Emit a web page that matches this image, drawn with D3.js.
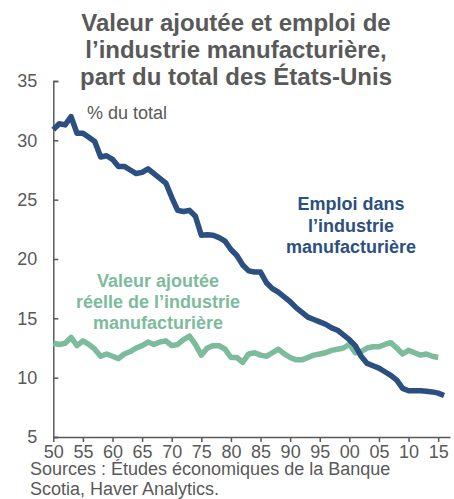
<!DOCTYPE html>
<html>
<head>
<meta charset="utf-8">
<script src="https://cdn.jsdelivr.net/npm/d3@7"></script>
<style>
  body { margin: 0; background: #fff; }
  svg { font-family: "Liberation Sans", Arial, sans-serif; }
</style>
</head>
<body>
<svg id="chart" width="454" height="499"></svg>
<script>
// years 1950 .. 2016
var startYear = 1950;

// Emploi dans l'industrie manufacturière, % du total
var emploi = [30.9, 31.4, 31.3, 32.0, 30.6, 30.6, 30.25, 29.9, 28.6, 28.7,
              28.4, 27.8, 27.8, 27.5, 27.2, 27.3, 27.6, 27.2, 26.8, 26.4,
              25.2, 24.1, 24.0, 24.1, 23.6, 22.0, 22.05, 22.0, 21.8, 21.5,
              20.8, 20.3, 19.5, 19.0, 18.9, 18.9, 18.0, 17.5, 17.2, 16.8,
              16.4, 15.9, 15.5, 15.1, 14.9, 14.7, 14.5, 14.2, 14.0, 13.6,
              13.2, 12.7, 11.8, 11.2, 11.0, 10.8, 10.5, 10.2, 9.8, 9.1,
              8.9, 8.9, 8.9, 8.85, 8.8, 8.7, 8.5];

// Valeur ajoutée réelle de l'industrie manufacturière, % du total
var valeur = [12.9, 12.8, 12.9, 13.4, 12.7, 13.1, 12.8, 12.4, 11.8, 12.0,
              11.8, 11.6, 12.0, 12.2, 12.5, 12.7, 13.0, 12.8, 13.0, 13.1,
              12.7, 12.8, 13.2, 13.5, 12.8, 11.9, 12.5, 12.7, 12.7, 12.4,
              11.7, 11.7, 11.3, 12.0, 12.1, 11.9, 11.8, 12.1, 12.4, 12.0,
              11.7, 11.5, 11.5, 11.7, 11.9, 12.0, 12.1, 12.3, 12.4, 12.5,
              12.8, 12.1, 12.2, 12.5, 12.6, 12.6, 12.8, 12.95, 12.5, 12.0,
              12.3, 12.1, 11.9, 12.0, 11.8, 11.7];

var yTicks = [5, 10, 15, 20, 25, 30, 35];
var xTicks = [1950, 1955, 1960, 1965, 1970, 1975, 1980, 1985, 1990, 1995, 2000, 2005, 2010, 2015];

var titleLines = ["Valeur ajoutée et emploi de", "l\u2019industrie manufacturière,", "part du total des États-Unis"];
var emploiLabel = ["Emploi dans", "l\u2019industrie", "manufacturière"];
var valeurLabel = ["Valeur ajoutée", "réelle de l\u2019industrie", "manufacturière"];
var sourceLines = ["Sources : Études économiques de la Banque", "Scotia, Haver Analytics."];

var blue = "#2b4f80";
var green = "#7dbb9d";
var grey = "#595959";

var svg = d3.select("#chart");

var x = d3.scaleLinear().domain([1950, 2017]).range([53.3, 450]);
var y = d3.scaleLinear().domain([5, 35]).range([437, 81]);

// Title
svg.append("g").selectAll("text")
    .data(titleLines)
    .enter()
    .append("text")
    .attr("x", 236)
    .attr("y", function(d, i) { return 31 + i * 27; })
    .attr("text-anchor", "middle")
    .attr("font-size", "24px")
    .attr("font-weight", "bold")
    .attr("fill", grey)
    .text(function(d) { return d; });

// y axis, ticks pointing inward
var yAxis = svg.append("g")
    .attr("transform", "translate(" + x(1950) + ",0)")
    .call(d3.axisRight(y).tickValues(yTicks).tickSize(5).tickFormat(d3.format("d")));
yAxis.select(".domain").attr("stroke", grey).attr("stroke-width", 1.5);
yAxis.selectAll(".tick line").attr("stroke", grey).attr("stroke-width", 1.5);
yAxis.selectAll(".tick text")
    .attr("x", -16)
    .attr("text-anchor", "end")
    .attr("font-size", "18px")
    .attr("fill", grey);

// x axis
var xAxis = svg.append("g")
    .attr("transform", "translate(0," + y(5) + ")")
    .call(d3.axisBottom(x).tickValues(xTicks).tickSize(5).tickSizeOuter(0)
        .tickFormat(function(d) { return d3.format("02d")(d % 100); }));
xAxis.select(".domain").attr("stroke", grey).attr("stroke-width", 1.5);
xAxis.selectAll(".tick line").attr("stroke", grey).attr("stroke-width", 1.5);
xAxis.selectAll(".tick text")
    .attr("y", 8)
    .attr("font-size", "18px")
    .attr("fill", grey);

var line = d3.line()
    .x(function(d, i) { return x(startYear + i); })
    .y(function(d) { return y(d); });

svg.append("path")
    .datum(valeur)
    .attr("d", line)
    .attr("fill", "none")
    .attr("stroke", green)
    .attr("stroke-width", 5.5)
    .attr("stroke-linejoin", "round");

svg.append("path")
    .datum(emploi)
    .attr("d", line)
    .attr("fill", "none")
    .attr("stroke", blue)
    .attr("stroke-width", 5.5)
    .attr("stroke-linejoin", "round");

// unit label
svg.append("text")
    .attr("x", 87)
    .attr("y", 119)
    .attr("font-size", "18px")
    .attr("fill", grey)
    .text("% du total");

// series labels
svg.append("g").selectAll("text")
    .data(emploiLabel)
    .enter()
    .append("text")
    .attr("x", 351)
    .attr("y", function(d, i) { return 210 + i * 21.5; })
    .attr("text-anchor", "middle")
    .attr("font-size", "18px")
    .attr("font-weight", "bold")
    .attr("fill", blue)
    .text(function(d) { return d; });

svg.append("g").selectAll("text")
    .data(valeurLabel)
    .enter()
    .append("text")
    .attr("x", 158)
    .attr("y", function(d, i) { return 287 + i * 21; })
    .attr("text-anchor", "middle")
    .attr("font-size", "18px")
    .attr("font-weight", "bold")
    .attr("fill", green)
    .text(function(d) { return d; });

// sources
svg.append("g").selectAll("text")
    .data(sourceLines)
    .enter()
    .append("text")
    .attr("x", 30)
    .attr("y", function(d, i) { return 475 + i * 19.5; })
    .attr("font-size", "18px")
    .attr("fill", grey)
    .text(function(d) { return d; });
</script>
</body>
</html>
